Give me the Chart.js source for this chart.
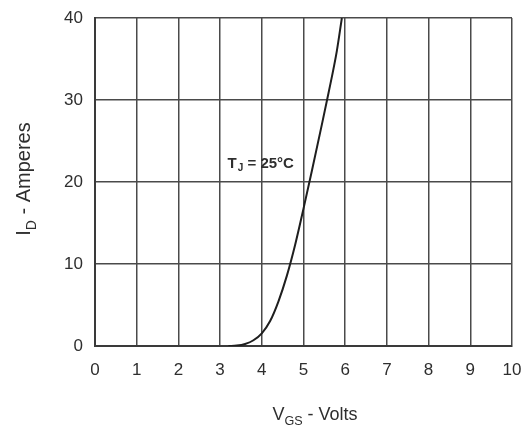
<!DOCTYPE html>
<html>
<head>
<meta charset="utf-8">
<script src="https://cdn.jsdelivr.net/npm/chart.js@4/dist/chart.umd.min.js"></script>
<style>
  html, body { margin: 0; padding: 0; background: #fff; }
  #wrap { width: 523px; height: 435px; position: relative; }
</style>
</head>
<body>
<div id="wrap"><canvas id="transferChart"></canvas></div>
<script>
// transfer characteristic, Tj = 25°C
const vgs = [3.2, 3.4, 3.6, 3.8, 4.0, 4.2, 4.4, 4.6, 4.8, 5.0, 5.2, 5.4, 5.6, 5.8, 5.92];
const idAmps = [0, 0.05, 0.25, 0.7, 1.55, 3.05, 5.45, 8.55, 12.35, 16.75, 21.35, 26.05, 30.85, 36.0, 40];

const xTicks = [0, 1, 2, 3, 4, 5, 6, 7, 8, 9, 10];
const yTicks = [0, 10, 20, 30, 40];

const FONT = '"Liberation Sans", Arial, sans-serif';
const TEXT = '#2e2e2e';

// draws "main" + subscript + rest on one baseline
function subText(ctx, parts, x, y, size) {
  const pieces = [
    { t: parts[0], s: size, dy: 0 },
    { t: parts[1], s: size * 0.7, dy: size * 0.3 },
    { t: parts[2], s: size, dy: 0 }
  ];
  let total = 0;
  pieces.forEach(p => { ctx.font = p.s + 'px ' + FONT; total += ctx.measureText(p.t).width; });
  let cx = x - total / 2;
  pieces.forEach(p => {
    ctx.font = p.s + 'px ' + FONT;
    ctx.fillText(p.t, cx, y + p.dy);
    cx += ctx.measureText(p.t).width;
  });
}

const labelsPlugin = {
  id: 'labels',
  afterDraw(chart) {
    const ctx = chart.ctx;
    const xs = chart.scales.x, ys = chart.scales.y;
    ctx.save();
    ctx.fillStyle = TEXT;
    ctx.textAlign = 'left';
    ctx.textBaseline = 'alphabetic';

    // x title
    subText(ctx, ['V', 'GS', ' - Volts'], 315, 420, 18);

    // y title, rotated
    ctx.save();
    ctx.translate(30, 179);
    ctx.rotate(-Math.PI / 2);
    subText(ctx, ['I', 'D', ' - Amperes'], 0, 0, 20);
    ctx.restore();

    // curve label
    const lx = xs.getPixelForValue(3.18);
    const ly = ys.getPixelForValue(22.4) + 6;
    ctx.font = 'bold 15px ' + FONT;
    ctx.fillText('T', lx, ly);
    let w = ctx.measureText('T').width;
    ctx.font = 'bold 10px ' + FONT;
    ctx.fillText('J', lx + w + 1, ly + 3);
    w += ctx.measureText('J').width + 1;
    ctx.font = 'bold 15px ' + FONT;
    ctx.fillText(' = 25°C', lx + w, ly);
    ctx.restore();
  }
};

new Chart(document.getElementById('transferChart'), {
  type: 'scatter',
  data: {
    datasets: [{
      data: vgs.map((v, i) => ({ x: v, y: idAmps[i] })),
      showLine: true,
      borderColor: '#1e1e1e',
      borderWidth: 2,
      pointRadius: 0,
      cubicInterpolationMode: 'monotone'
    }]
  },
  options: {
    responsive: true,
    maintainAspectRatio: false,
    animation: false,
    layout: { padding: 0 },
    plugins: { legend: { display: false }, tooltip: { enabled: false } },
    scales: {
      x: {
        type: 'linear',
        min: 0,
        max: 10,
        afterBuildTicks: s => { s.ticks = xTicks.map(v => ({ value: v })); },
        // fixed frame for the plot area
        afterFit: s => { s.height = 89; s.paddingLeft = 0; s.paddingRight = 11; },
        grid: { color: '#4a4a4a', lineWidth: 1.5, drawTicks: false },
        border: { color: '#3a3a3a', width: 2 },
        ticks: { color: TEXT, padding: 14, font: { family: FONT, size: 17 } }
      },
      y: {
        type: 'linear',
        min: 0,
        max: 40,
        afterBuildTicks: s => { s.ticks = yTicks.map(v => ({ value: v })); },
        afterFit: s => { s.width = 95; s.paddingTop = 18; s.paddingBottom = 0; },
        grid: { color: '#4a4a4a', lineWidth: 1.5, drawTicks: false },
        border: { color: '#3a3a3a', width: 2 },
        ticks: { color: TEXT, padding: 12, font: { family: FONT, size: 17 } }
      }
    }
  },
  plugins: [labelsPlugin]
});
</script>
</body>
</html>
